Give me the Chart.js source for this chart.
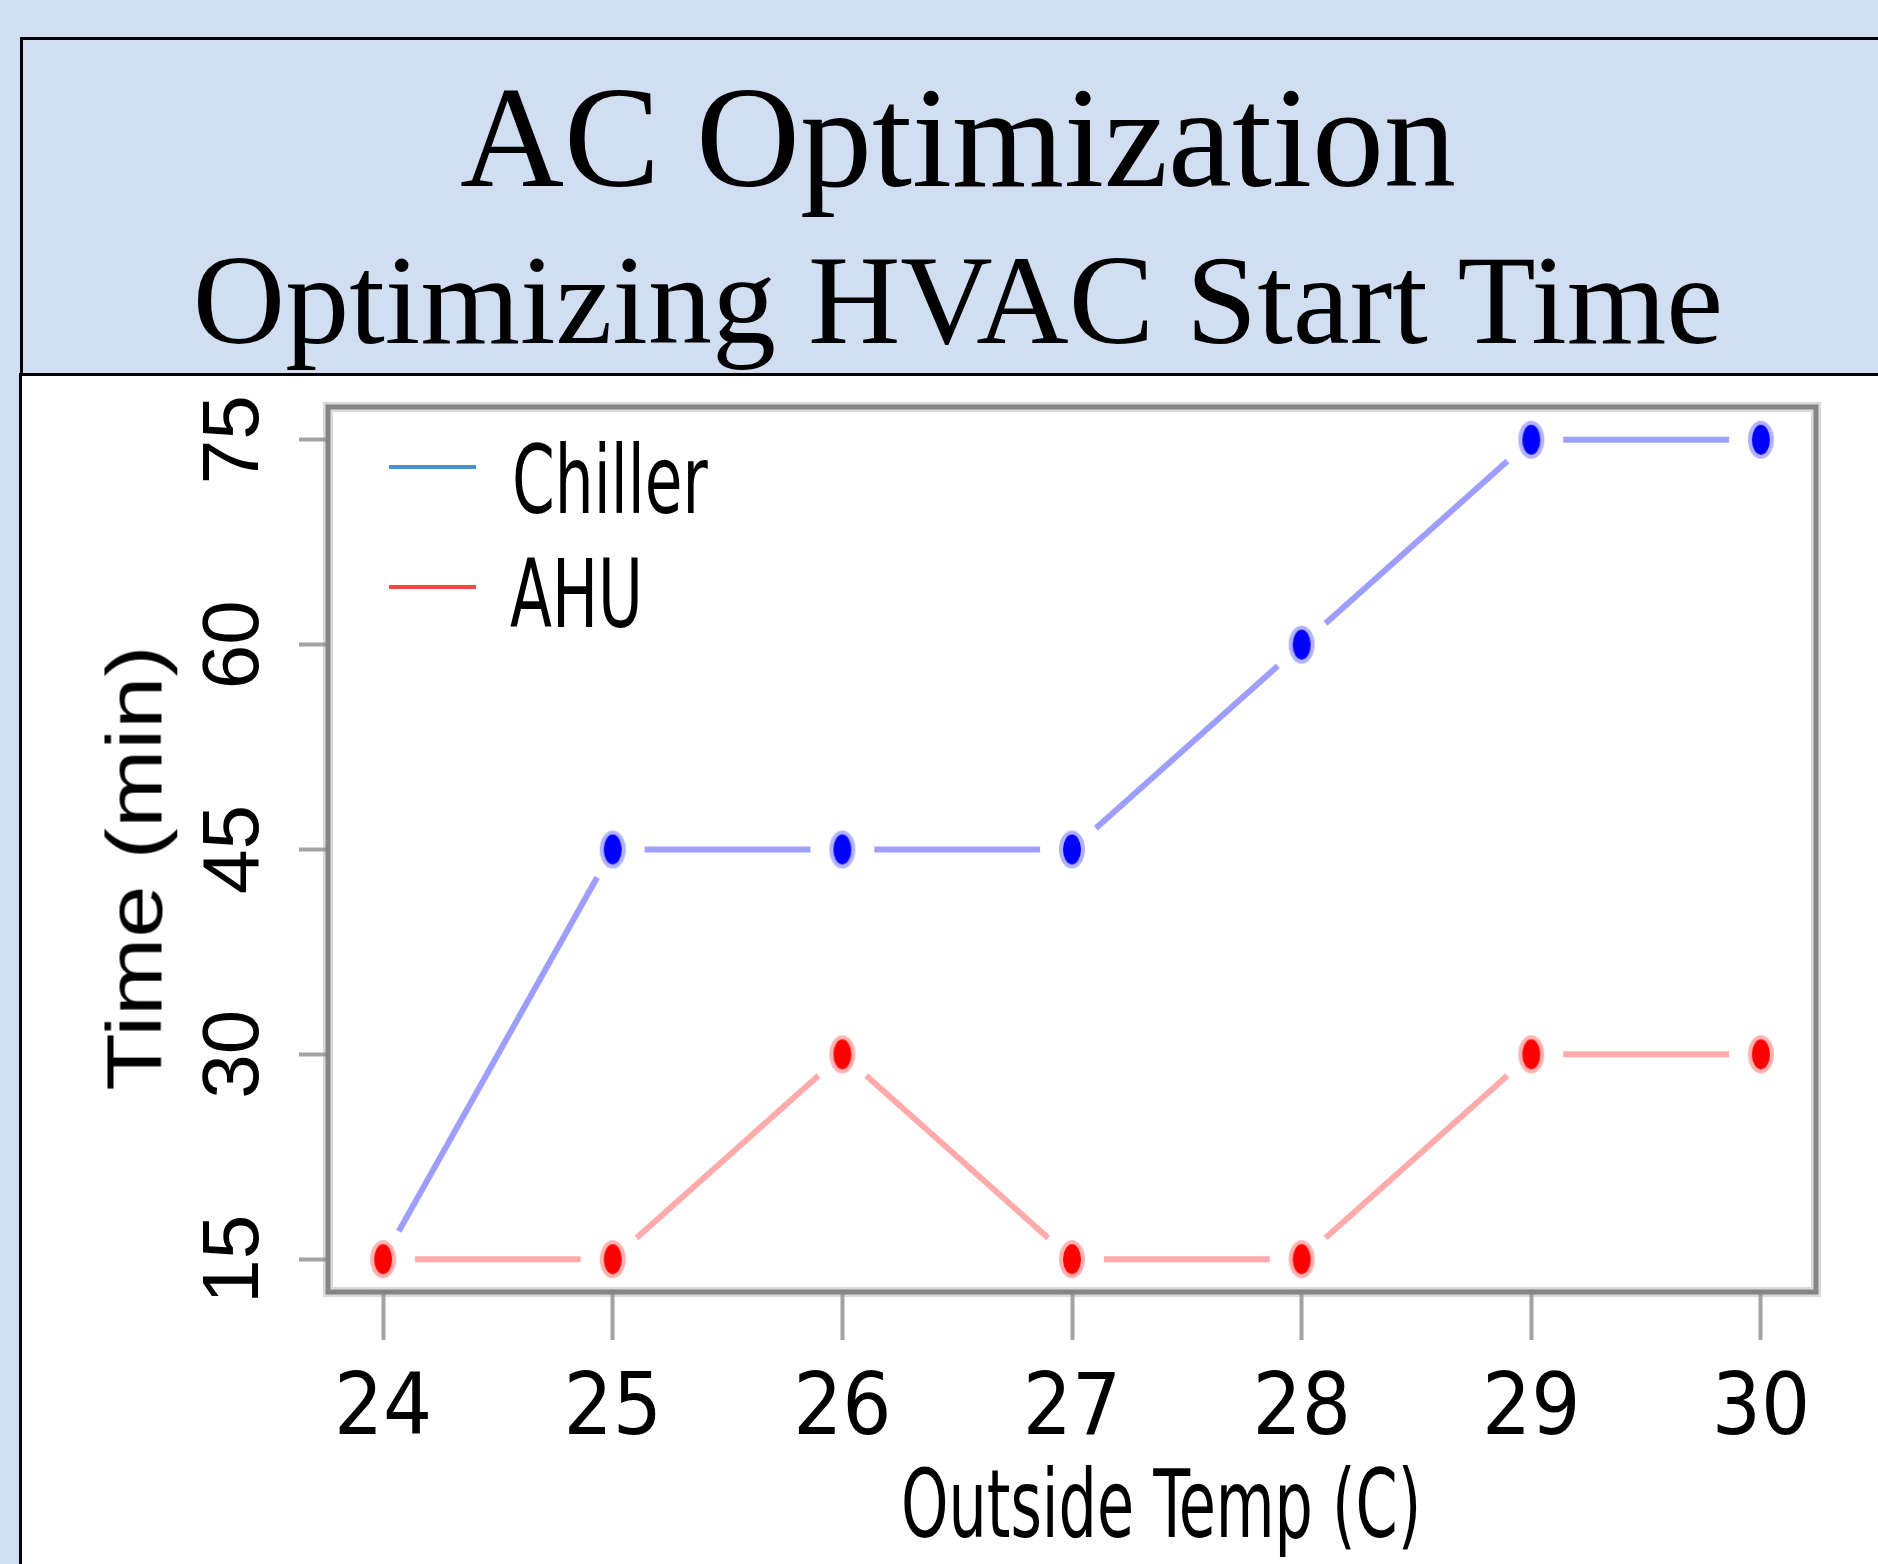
<!DOCTYPE html>
<html>
<head>
<meta charset="utf-8">
<script src="https://cdn.jsdelivr.net/npm/chart.js@4.4.1/dist/chart.umd.min.js"></script>
<style>
  body { margin: 0; width: 1878px; height: 1564px; overflow: hidden; position: relative; background: #d1ddf0; }
  .abs { position: absolute; white-space: nowrap; }
  #titlebox { left: 20px; top: 37px; width: 1900px; height: 335px; border: 3px solid #000; background: #d1ddf0; }
  #panel { left: 19px; top: 373px; width: 1900px; height: 1200px; background: #fff; border-left: 3px solid #000; border-top: 3px solid #000; }
  .ttl { left: 0; width: 1916px; text-align: center; font-family: 'Liberation Serif', 'Times New Roman', serif; color: #000; z-index: 2; }
  #t1 { top: 66px; font-size: 144px; line-height: 144px; }
  #t2 { top: 236px; font-size: 128px; line-height: 128px; }
  #chart { position: absolute; left: 0; top: 0; z-index: 1; }
  .narrow { font-family: 'DejaVu Sans Condensed', 'Liberation Sans Narrow', sans-serif; color: #000; z-index: 2; }
  .leg { font-size: 94px; line-height: 94px; transform-origin: 0 0; transform: scaleX(0.725); }
  .sw { height: 4px; width: 87px; left: 389px; z-index: 2; }
  #xtitle { left: 901px; top: 1457px; font-size: 95px; line-height: 95px; transform-origin: 0 0; transform: scaleX(0.706); }
  #ytitle { left: 135px; top: 868px; font-family: 'Liberation Sans', Arial, sans-serif; font-size: 77px; line-height: 77px;
            transform: translate(-50%, -50%) rotate(-90deg) scaleX(1.22); z-index: 2; color: #000; }
</style>
</head>
<body>
<div id="titlebox" class="abs"></div>
<div id="panel" class="abs"></div>
<div id="t1" class="abs ttl">AC Optimization</div>
<div id="t2" class="abs ttl">Optimizing HVAC Start Time</div>

<canvas id="chart" width="1878" height="1564"></canvas>

<div class="abs sw" style="top:465px; background:#4393d2;"></div>
<div class="abs sw" style="top:585px; background:#ff4444;"></div>
<div class="abs narrow leg" style="left:512px; top:434px;">Chiller</div>
<div class="abs narrow leg" style="left:510px; top:548px;">AHU</div>
<div id="xtitle" class="abs narrow">Outside Temp (C)</div>
<div id="ytitle" class="abs">Time (min)</div>

<script>
// data
const temps = [24, 25, 26, 27, 28, 29, 30];
const chiller = [15, 45, 45, 45, 60, 75, 75];
const ahu = [15, 15, 30, 15, 15, 30, 30];
const yTicks = [15, 30, 45, 60, 75];

const narrow = "'DejaVu Sans Condensed', 'Liberation Sans Narrow', sans-serif";

// point marker: white gap around a tall dot, like R's type="b"
const makePoint = (color, halo) => {
  const c = document.createElement('canvas');
  c.width = 72;
  c.height = 72;
  const g = c.getContext('2d');
  g.fillStyle = '#fff';
  g.beginPath();
  g.arc(36, 36, 32, 0, Math.PI * 2);
  g.fill();
  g.fillStyle = halo;
  g.beginPath();
  g.ellipse(36, 36, 13, 19, 0, 0, Math.PI * 2);
  g.fill();
  g.fillStyle = color;
  g.beginPath();
  g.ellipse(36, 36, 9, 15, 0, 0, Math.PI * 2);
  g.fill();
  return c;
};

const frame = {
  id: 'frame',
  afterDatasetsDraw(chart) {
    const { ctx, chartArea: a } = chart;
    ctx.save();
    ctx.strokeStyle = 'rgba(150,150,150,0.35)';
    ctx.lineWidth = 10;
    ctx.strokeRect(a.left, a.top, a.right - a.left, a.bottom - a.top);
    ctx.strokeStyle = '#858585';
    ctx.lineWidth = 5;
    ctx.strokeRect(a.left, a.top, a.right - a.left, a.bottom - a.top);
    ctx.restore();
  },
};

const series = (ys) => temps.map((t, i) => ({ x: t, y: ys[i] }));

new Chart(document.getElementById('chart'), {
  type: 'scatter',
  data: {
    datasets: [
      {
        label: 'Chiller',
        data: series(chiller),
        showLine: true,
        borderColor: 'rgba(0,0,255,0.38)',
        borderWidth: 6,
        borderCapStyle: 'butt',
        pointStyle: makePoint('#0000ff', 'rgba(0,0,255,0.3)'),
        pointRadius: 10,
        order: 1,
      },
      {
        label: 'AHU',
        data: series(ahu),
        showLine: true,
        borderColor: 'rgba(255,0,0,0.33)',
        borderWidth: 6,
        borderCapStyle: 'butt',
        pointStyle: makePoint('#ff0000', 'rgba(255,0,0,0.3)'),
        pointRadius: 10,
        order: 0,
      },
    ],
  },
  options: {
    responsive: false,
    devicePixelRatio: 1,
    animation: false,
    layout: { padding: { left: 150, right: 62, top: 407, bottom: 0 } },
    plugins: { legend: { display: false }, tooltip: { enabled: false } },
    scales: {
      x: {
        type: 'linear',
        min: 23.76,
        max: 30.24,
        afterBuildTicks: (s) => { s.ticks = temps.map((v) => ({ value: v })); },
        afterFit: (s) => { s.height = 272; },
        grid: { drawOnChartArea: false, tickLength: 48, tickWidth: 4, tickColor: '#a3a3a3' },
        border: { display: false },
        ticks: { color: '#000', padding: 20, autoSkip: false, font: { family: narrow, size: 86 } },
      },
      y: {
        min: 12.6,
        max: 77.4,
        afterBuildTicks: (s) => { s.ticks = yTicks.map((v) => ({ value: v })); },
        afterFit: (s) => { s.width = 178; },
        grid: { drawOnChartArea: false, tickLength: 29, tickWidth: 4, tickColor: '#a3a3a3' },
        border: { display: false },
        ticks: {
          color: '#000', padding: 19, autoSkip: false, minRotation: 90, maxRotation: 90, crossAlign: 'center',
          font: { family: "'Liberation Sans', Arial, sans-serif", size: 80 },
        },
      },
    },
  },
  plugins: [frame],
});
</script>
</body>
</html>
